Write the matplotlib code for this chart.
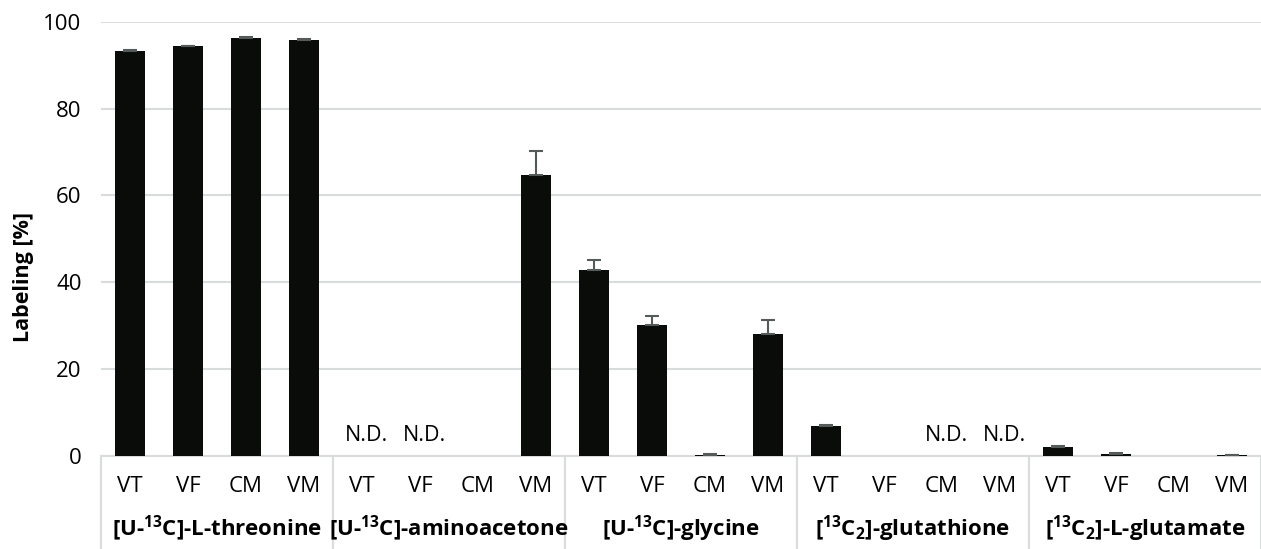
import numpy as np
import matplotlib.pyplot as plt
import matplotlib.transforms as mtransforms

plt.rcParams['font.family'] = ['Open Sans', 'DejaVu Sans']
plt.rcParams['mathtext.fontset'] = 'custom'
plt.rcParams['mathtext.rm'] = 'Open Sans'
plt.rcParams['mathtext.bf'] = 'Open Sans:bold'

# data
groups = [r'[U-$\mathbf{^{13}}$C]-L-threonine',
          r'[U-$\mathbf{^{13}}$C]-aminoacetone',
          r'[U-$\mathbf{^{13}}$C]-glycine',
          r'[$\mathbf{^{13}}$C$\mathbf{_{2}}$]-glutathione',
          r'[$\mathbf{^{13}}$C$\mathbf{_{2}}$]-L-glutamate']
samples = ['VT', 'VF', 'CM', 'VM']
values = [93.2, 94.3, 96.2, 95.8,
          0.0, 0.0, 0.0, 64.8,
          42.8, 30.2, 0.3, 28.1,
          6.8, 0.0, 0.0, 0.0,
          2.1, 0.5, 0.0, 0.2]
errors = [0.3, 0.2, 0.2, 0.2,
          0.0, 0.0, 0.0, 5.5,
          2.3, 2.1, 0.1, 3.2,
          0.3, 0.0, 0.0, 0.0,
          0.15, 0.1, 0.0, 0.05]
not_detected = [4, 5, 14, 15]

fig = plt.figure(figsize=(12.61, 5.49), dpi=100)
ax = fig.add_axes([0.0801, 0.1694, 0.9199, 0.7911])

x = np.arange(len(values))
vals = np.array(values)
errs = np.array(errors)
ax.bar(x, vals, width=0.53, color='#0a0c0a', zorder=3)

# only draw error bars where there is a value
has_err = errs > 0
ax.errorbar(x[has_err], vals[has_err],
            yerr=[np.zeros(has_err.sum()), errs[has_err]], fmt='none',
            ecolor='#555a5a', elinewidth=1.5, capsize=5, capthick=1.5, zorder=4)

for i in not_detected:
    ax.text(i + 0.08, 4.8, 'N.D.', ha='center', va='center', fontsize=15.5)

ax.set_xlim(-0.5, len(values) - 0.5)
ax.set_ylim(0, 100)
ax.set_yticks(np.arange(0, 101, 20))
ax.tick_params(axis='y', length=0, labelsize=16, pad=14)
ax.set_xticks([])
ax.grid(axis='y', color='#d9dcdc', linewidth=1.5, zorder=0)
for s in ['top', 'right', 'left']:
    ax.spines[s].set_visible(False)
ax.spines['bottom'].set_color('#d9dcdc')
ax.spines['bottom'].set_linewidth(1.5)
ax.set_ylabel('Labeling [%]', fontsize=15.5, fontweight='bold')
ax.yaxis.set_label_coords(-0.058, 0.412)

trans = mtransforms.blended_transform_factory(ax.transData, ax.transAxes)
for i in x:
    ax.text(i, -0.071, samples[i % 4], transform=trans, ha='center',
            va='center', fontsize=16)
for g, name in enumerate(groups):
    ax.text(g * 4 + 1.5, -0.168, name, transform=trans, ha='center',
            va='center', fontsize=16, fontweight='bold')
for b in range(len(groups) + 1):
    ax.plot([b * 4 - 0.5, b * 4 - 0.5], [0, -0.22], transform=trans,
            color='#d9dcdc', linewidth=1.5, clip_on=False)

fig.savefig('out.png', dpi=100)
